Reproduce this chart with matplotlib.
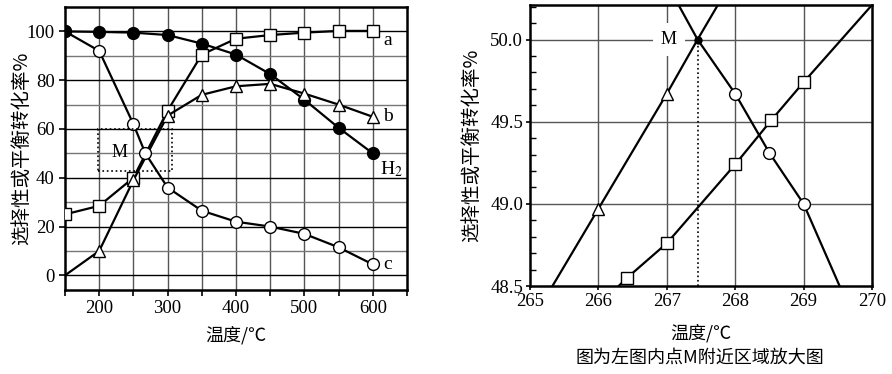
import matplotlib
matplotlib.use("Agg")
import matplotlib.pyplot as plt
from matplotlib.patches import Rectangle
from matplotlib.ticker import MultipleLocator

CJK = ['Noto Sans CJK SC', 'DejaVu Sans']
NUM = 'Liberation Serif'

# ---- left chart data ----
temps = [150, 200, 250, 300, 350, 400, 450, 500, 550, 600]
h2 = [100, 99.8, 99.5, 98.5, 95, 90.5, 82.5, 72, 60.5, 50]
a_sq = [25, 28.5, 40, 67.5, 90.5, 97, 98.5, 99.5, 100.2, 100.2]
b_tri = [0, 10, 39, 65.5, 74, 77.5, 78.5, 74.5, 70, 65]
c_x = [150, 200, 250, 267.5, 300, 350, 400, 450, 500, 550, 600]
c_circ = [100, 92, 62, 50, 36, 26.5, 22, 20, 17, 11.5, 4.5]

# ---- right (zoomed) chart data ----
tri_line_x = [265.0, 266.0, 267.0, 267.45, 268.0]
tri_line_y = [48.27, 48.97, 49.67, 50.0, 50.39]
tri_mark_x = [266.0, 267.0]
tri_mark_y = [48.97, 49.67]
circ_line_x = [267.0, 267.45, 268.0, 268.5, 269.0, 270.0]
circ_line_y = [50.34, 50.0, 49.67, 49.31, 49.0, 48.05]
circ_mark_x = [268.0, 268.5, 269.0]
circ_mark_y = [49.67, 49.31, 49.0]
sq_line_x = [266.0, 266.42, 267.0, 268.0, 268.53, 269.0, 270.0]
sq_line_y = [48.38, 48.55, 48.76, 49.24, 49.51, 49.74, 50.21]
sq_mark_x = [266.42, 267.0, 268.0, 268.53, 269.0]
sq_mark_y = [48.55, 48.76, 49.24, 49.51, 49.74]
m_x, m_y = 267.45, 50.0

fig = plt.figure(figsize=(8.92, 3.74), dpi=100)

# ================= left =================
ax = fig.add_axes([65/892, 1-290/374, 342/892, 283/374])
ax.set_xlim(150, 650)
ax.set_ylim(-6, 110)
for x in range(200, 650, 50):
    ax.axvline(x, color='#555555', lw=1.0, zorder=1)
for y in range(0, 110, 10):
    ax.axhline(y, color='black' if y % 20 == 0 else '#777777', lw=1.0, zorder=1)

lw = 1.6
ms = 8.5
ax.plot(temps, h2, '-o', color='black', lw=lw, ms=ms, mfc='black', mec='black', zorder=4)
ax.plot(temps, a_sq, '-s', color='black', lw=lw, ms=ms, mfc='white', mec='black', mew=1, zorder=4)
ax.plot(temps, b_tri, '-', color='black', lw=lw, zorder=4)
ax.plot(temps[1:], b_tri[1:], '^', ms=ms, mfc='white', mec='black', mew=1, zorder=5)
ax.plot(c_x, c_circ, '-', color='black', lw=lw, zorder=3)
ax.plot(c_x[1:], c_circ[1:], 'o', ms=ms, mfc='white', mec='black', mew=1, zorder=5)
ax.plot([temps[0]], [h2[0]], 'o', ms=ms, mfc='black', mec='black', zorder=6)

ax.add_patch(Rectangle((198, 42.6), 108, 17.2, fill=False, ls=':', lw=1.2, ec='black', zorder=6))
ax.text(229, 50.5, 'M', fontsize=13, family=NUM, ha='center', va='center', zorder=7)

ax.text(622, 96.4, 'a', fontsize=14, family=NUM, ha='center', va='center')
ax.text(622, 65.3, 'b', fontsize=14, family=NUM, ha='center', va='center')
ax.text(627, 43.4, 'H$_2$', fontsize=14, family=NUM, ha='center', va='center', math_fontfamily='stix')
ax.text(622, 4.6, 'c', fontsize=14, family=NUM, ha='center', va='center')

ax.xaxis.set_minor_locator(MultipleLocator(50))
ax.set_xticks([200, 300, 400, 500, 600])
ax.set_yticks([0, 20, 40, 60, 80, 100])
ax.tick_params(axis='both', which='both', direction='out', length=4, width=1.2, labelsize=13.5)
for lab in ax.get_xticklabels() + ax.get_yticklabels():
    lab.set_family(NUM)
for s in ax.spines.values():
    s.set_linewidth(1.8)
ax.set_xlabel('温度/℃', family=CJK, fontsize=13, labelpad=6)
ax.set_ylabel('选择性或平衡转化率%', family=CJK, fontsize=14)
ax.yaxis.set_label_coords(-0.096, 0.5)

# ================= right =================
ax2 = fig.add_axes([530/892, 1-286/374, 342/892, 281/374])
ax2.set_xlim(265, 270)
ax2.set_ylim(48.5, 50.21)
for x in [266, 267, 268, 269]:
    ax2.axvline(x, color='#555555', lw=1.0, zorder=1)
for y in [49.0, 49.5, 50.0]:
    ax2.axhline(y, color='#555555', lw=1.0, zorder=1)

ax2.plot(tri_line_x, tri_line_y, '-', color='black', lw=lw, zorder=4)
ax2.plot(tri_mark_x, tri_mark_y, '^', ms=ms, mfc='white', mec='black', mew=1, zorder=5)
ax2.plot(circ_line_x, circ_line_y, '-', color='black', lw=lw, zorder=4)
ax2.plot(circ_mark_x, circ_mark_y, 'o', ms=ms, mfc='white', mec='black', mew=1, zorder=5)
ax2.plot(sq_line_x, sq_line_y, '-', color='black', lw=lw, zorder=4)
ax2.plot(sq_mark_x, sq_mark_y, 's', ms=ms, mfc='white', mec='black', mew=1, zorder=5)
ax2.plot([m_x, m_x], [48.5, m_y], ':', color='black', lw=1.2, zorder=3)
ax2.plot([m_x], [m_y], 'o', ms=5, color='black', zorder=6)
ax2.text(267.03, 50.0, 'M', fontsize=13, family=NUM, ha='center', va='center',
         bbox=dict(fc='white', ec='none', pad=6), zorder=3)

ax2.set_xticks([265, 266, 267, 268, 269, 270])
ax2.set_yticks([48.5, 49.0, 49.5, 50.0])
ax2.set_yticklabels(['48.5', '49.0', '49.5', '50.0'])
ax2.yaxis.set_minor_locator(MultipleLocator(0.1))
ax2.tick_params(axis='both', which='major', direction='out', length=3, width=1.2, labelsize=13.5, pad=2)
ax2.tick_params(axis='y', which='minor', direction='in', length=4, width=1)
for lab in ax2.get_xticklabels() + ax2.get_yticklabels():
    lab.set_family(NUM)
for s in ax2.spines.values():
    s.set_linewidth(1.8)
ax2.set_xlabel('温度/℃', family=CJK, fontsize=13, labelpad=10)
ax2.set_ylabel('选择性或平衡转化率%', family=CJK, fontsize=14)
ax2.yaxis.set_label_coords(-0.14, 0.5)
fig.text(700/892, 1-358/374, '图为左图内点M附近区域放大图', family=CJK, fontsize=13,
         ha='center', va='center')

fig.savefig('out.png', dpi=100)
